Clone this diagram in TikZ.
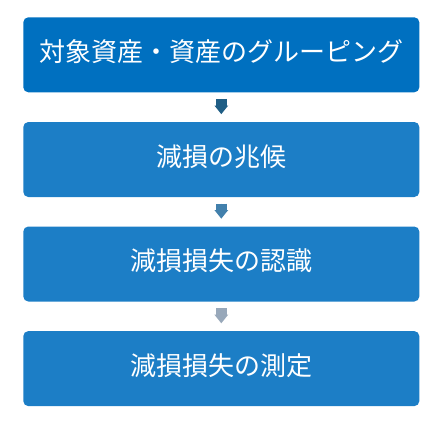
\documentclass[tikz,border=0pt]{standalone}
\usepackage{fontspec}
\newfontfamily\jp{Noto Sans CJK JP}
\usetikzlibrary{arrows.meta}
\definecolor{boxA}{RGB}{0,112,192}
\definecolor{boxB}{RGB}{28,126,198}
\definecolor{arrA}{RGB}{31,94,133}
\definecolor{arrB}{RGB}{66,128,172}
\definecolor{arrC}{RGB}{152,168,186}
\tikzset{
  stepbox/.style={rectangle, rounded corners=5pt, minimum width=396pt, minimum height=75pt,
    inner sep=0pt, text=white, text height=20pt, text depth=6.2pt,
    font=\jp\fontsize{26pt}{30pt}\selectfont},
  blockarrow/.style={line width=10.7pt, -{Triangle[width=13.3pt,length=8.7pt]},
    shorten <=6.4pt, shorten >=7.6pt}
}
\begin{document}
\begin{tikzpicture}[x=1pt,y=-1pt]
\useasboundingbox (0,0) rectangle (443,426);
\node[stepbox, fill=boxA] (b1) at (221.3,54.8) {対象資産・資産のグルーピング};
\node[stepbox, fill=boxB] (b2) at (221.3,159.5) {減損の兆候};
\node[stepbox, fill=boxB] (b3) at (221.3,264) {減損損失の認識};
\node[stepbox, fill=boxB] (b4) at (221.3,368.6) {減損損失の測定};
\draw[blockarrow, draw=arrA, fill=arrA] (b1.south) -- (b2.north);
\draw[blockarrow, draw=arrB, fill=arrB] (b2.south) -- (b3.north);
\draw[blockarrow, draw=arrC, fill=arrC] (b3.south) -- (b4.north);
\end{tikzpicture}
\end{document}
